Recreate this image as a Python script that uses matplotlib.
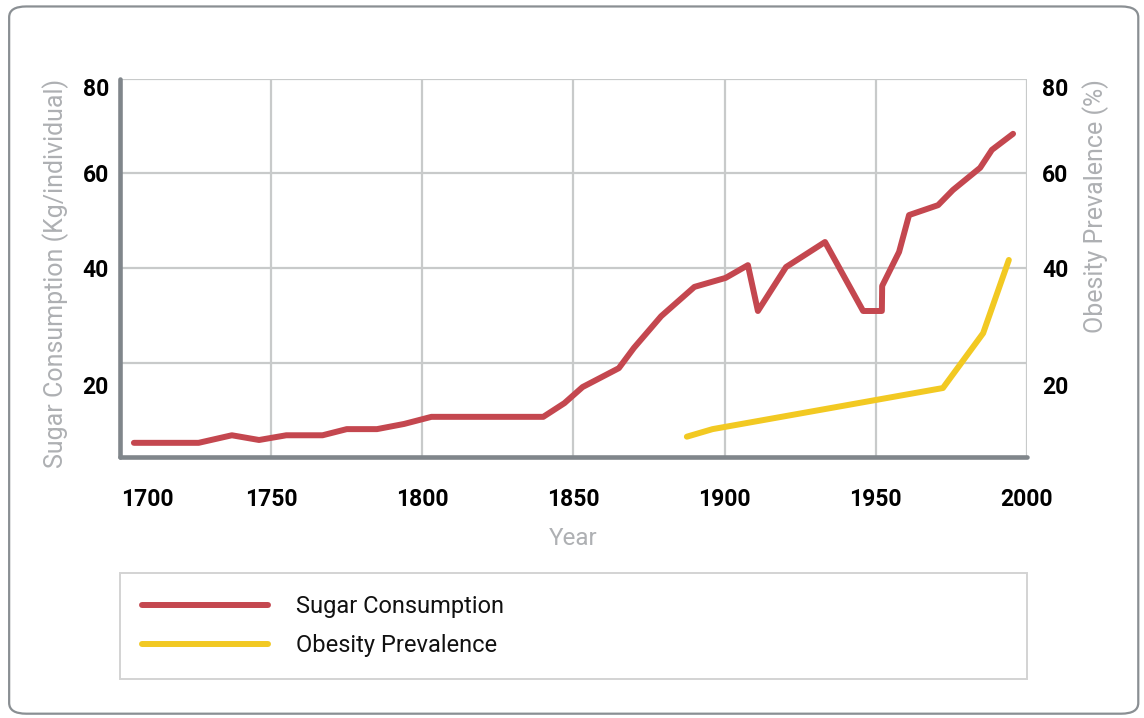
import matplotlib.pyplot as plt
from matplotlib.patches import FancyBboxPatch
from matplotlib.transforms import ScaledTranslation

# sugar consumption (kg per person per year)
sugar_years = [1704.6, 1726, 1737, 1746, 1755, 1767, 1775, 1785, 1794, 1803,
               1840, 1847, 1853, 1865, 1870, 1879, 1890, 1900.3, 1907.7, 1911,
               1920.3, 1933.2, 1945.8, 1952, 1952.1, 1957.7, 1961, 1970.6,
               1975.5, 1984.5, 1988.4, 1995.4]
sugar_values = [3.0, 3.0, 4.6, 3.6, 4.6, 4.6, 5.9, 5.9, 7.0, 8.5,
                8.5, 11.4, 14.8, 18.8, 23.1, 29.8, 36.0, 37.9, 40.6, 30.9,
                40.2, 45.5, 30.9, 30.9, 36.2, 43.4, 51.2, 53.3,
                56.5, 61.2, 65.0, 68.4]

# obesity prevalence (%)
obesity_years = [1887.5, 1896, 1972.2, 1985.5, 1994]
obesity_values = [4.3, 5.9, 14.6, 26.2, 41.7]

x_ticks = [1700, 1750, 1800, 1850, 1900, 1950, 2000]
y_ticks = [20, 40, 60, 80]

RED = "#C4474F"
YELLOW = "#F2C922"
SPINE = "#80868B"
GRID = "#C8CACA"
LABEL = "#AEB0B3"

plt.rcParams["font.family"] = ["Roboto", "DejaVu Sans"]

fig = plt.figure(figsize=(11.44, 7.18), dpi=100)

# rounded outer frame
frame = FancyBboxPatch((0.008, 0.006), 0.987, 0.985,
                       boxstyle="round,pad=0,rounding_size=0.015",
                       transform=fig.transFigure, facecolor="none",
                       edgecolor="#8A8F93", linewidth=1.6, zorder=-1)
fig.patches.append(frame)

ax = fig.add_axes([0.1049, 0.3635, 0.7928, 0.5265])
ax.set_facecolor("none")
ax2 = ax.twinx()

ax.plot(sugar_years, sugar_values, color=RED, linewidth=4.3,
        solid_capstyle="round", solid_joinstyle="round", label="Sugar Consumption", zorder=3)
ax2.plot(obesity_years, obesity_values, color=YELLOW, linewidth=4.3,
         solid_capstyle="round", solid_joinstyle="round", label="Obesity Prevalence", zorder=3)

for a in (ax, ax2):
    a.set_xlim(1700, 2000)
    a.set_ylim(0, 80)
    a.set_yticks(y_ticks)
    for s in ("top", "right"):
        a.spines[s].set_visible(False)

ax2.spines["left"].set_visible(False)
ax2.spines["bottom"].set_visible(False)

ax.spines["left"].set_color(SPINE)
ax.spines["left"].set_linewidth(3.3)
ax.spines["bottom"].set_color(SPINE)
ax.spines["bottom"].set_linewidth(3.3)
ax.spines["left"].set_capstyle("round")
ax.spines["bottom"].set_capstyle("round")

ax.set_xticks(x_ticks)
ax.grid(True, color=GRID, linewidth=1.6, zorder=0)
ax.set_axisbelow(True)

ax.tick_params(axis="both", length=0, labelsize=16.5, labelcolor="black")
ax.tick_params(axis="x", pad=22)
ax.tick_params(axis="y", pad=8)
ax2.tick_params(axis="y", length=0, labelsize=16.5, labelcolor="black", pad=11)

for lab in ax.get_xticklabels() + ax.get_yticklabels() + ax2.get_yticklabels():
    lab.set_fontweight("bold")

# nudge a few labels like the original layout
ax.get_xticklabels()[0].set_transform(
    ax.get_xticklabels()[0].get_transform() + ScaledTranslation(0.27, 0, fig.dpi_scale_trans))
for labels in (ax.get_yticklabels(), ax2.get_yticklabels()):
    labels[0].set_transform(labels[0].get_transform() + ScaledTranslation(0, -0.22, fig.dpi_scale_trans))
    labels[-1].set_transform(labels[-1].get_transform() + ScaledTranslation(0, -0.08, fig.dpi_scale_trans))

ax.set_xlabel("Year", fontsize=17.5, color=LABEL, labelpad=12)
ax.set_ylabel("Sugar Consumption (Kg/individual)", fontsize=18, color=LABEL,
              loc="top", labelpad=10)
ax2.set_ylabel("Obesity Prevalence (%)", fontsize=18, color=LABEL,
               loc="top", labelpad=10)

handles = ax.get_lines() + ax2.get_lines()
leg = fig.legend(handles, [h.get_label() for h in handles],
                 loc="upper left", bbox_to_anchor=(0.1049, 0.0529, 0.7928, 0.149),
                 bbox_transform=fig.transFigure, mode="expand",
                 fontsize=17, frameon=True, fancybox=False, edgecolor="#C8C8C8",
                 handlelength=5.3, handletextpad=1.2, labelspacing=0.65,
                 borderpad=0.95, borderaxespad=0, labelcolor="#111111")
leg.get_frame().set_linewidth(1.4)

fig.savefig("out.png", dpi=100)
